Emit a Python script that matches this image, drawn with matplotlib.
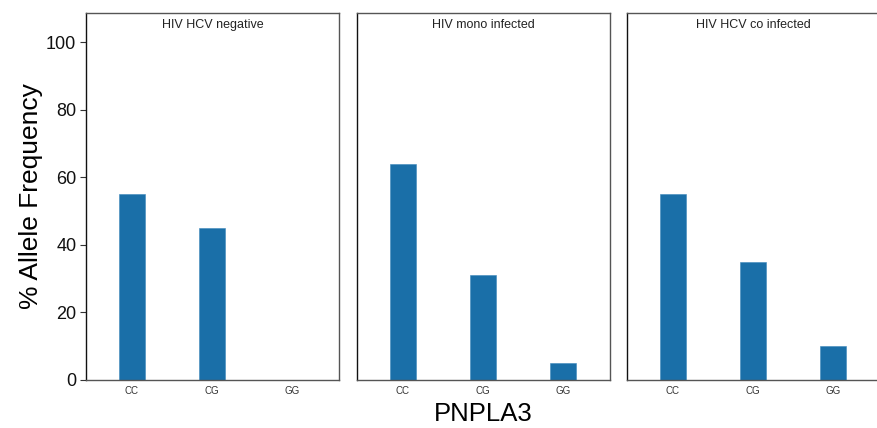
import matplotlib
matplotlib.use("Agg")
import matplotlib.pyplot as plt

plt.rcParams['font.family'] = ['Liberation Sans', 'DejaVu Sans']

genotypes = ["CC", "CG", "GG"]
panel_titles = ["HIV HCV negative", "HIV mono infected", "HIV HCV co infected"]
hiv_hcv_negative = [55, 45, 0]
hiv_mono_infected = [64, 31, 5]
hiv_hcv_co_infected = [55, 35, 10]
series = [hiv_hcv_negative, hiv_mono_infected, hiv_hcv_co_infected]
yticks = [0, 20, 40, 60, 80, 100]

W, H = 878, 428
fig = plt.figure(figsize=(W / 100, H / 100), dpi=100)

lefts = [86, 357, 627]
ax_w = 253
bottom = H - 380
ax_h = 367
bar_color = "#1a6fa8"

for i, (title, vals) in enumerate(zip(panel_titles, series)):
    ax = fig.add_axes([lefts[i] / W, bottom / H, ax_w / W, ax_h / H])
    x = list(range(len(genotypes)))
    ax.bar(x, vals, width=0.33, color=bar_color, edgecolor="#3d88bb", linewidth=0.4)
    ax.set_xlim(-0.575, 2.59)
    ax.set_ylim(0, 108.6)
    ax.set_xticks(x)
    ax.set_xticklabels(genotypes, fontsize=7, color="#333333")
    ax.tick_params(axis="x", length=0, pad=4)
    ax.text(0.5, 0.985, title, transform=ax.transAxes, ha="center", va="top",
            fontsize=9, color="#222222")
    for side in ["top", "right", "bottom"]:
        ax.spines[side].set_color("#555555")
        ax.spines[side].set_linewidth(1.0)
    ax.spines["left"].set_color("#111111")
    ax.spines["left"].set_linewidth(1.0)
    if i == 0:
        ax.set_yticks(yticks)
        ax.set_yticklabels([str(v) for v in yticks], fontsize=13, color="#111111")
        ax.tick_params(axis="y", length=4, width=0.8, color="#333333", pad=3)
        ax.set_ylabel("% Allele Frequency", fontsize=19, labelpad=2)
    else:
        ax.set_yticks([])

fig.text(483 / W, 1 - 414 / H, "PNPLA3", ha="center", va="center", fontsize=18.5)

fig.savefig("out.png", dpi=100)
